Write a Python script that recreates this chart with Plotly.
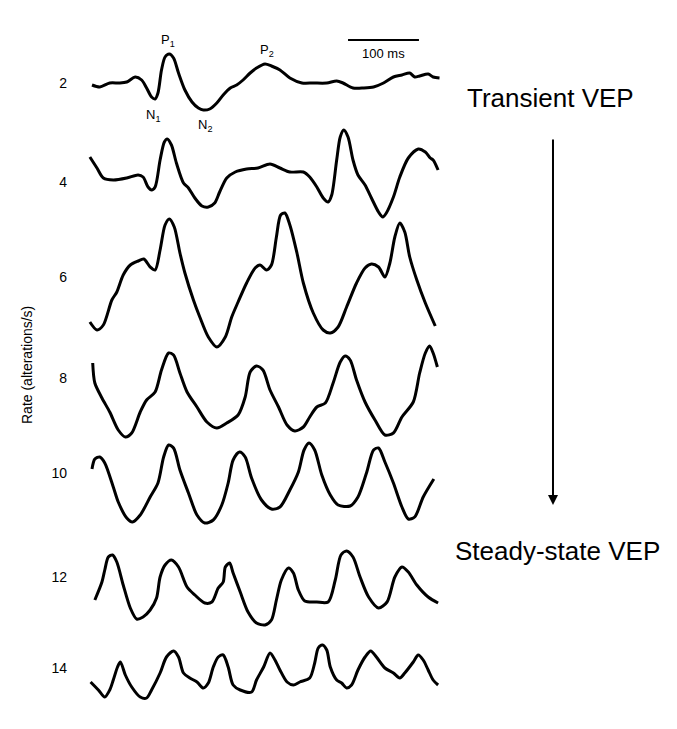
import plotly.graph_objects as go

# ---------------- data ----------------
# stimulation rates (alterations/s)
rates = [2, 4, 6, 8, 10, 12, 14]

# time (ms) and amplitude (a.u.) for each rate
t_2 = [0, 11, 25, 39, 49, 61, 70, 77, 84, 89, 93, 98, 103, 109, 115, 122, 131, 141, 150, 157, 166, 176, 185, 195, 204, 213, 223, 232, 244, 253, 265, 279, 296, 312, 331, 345, 354, 368, 383, 397, 411, 425, 437, 448, 455, 462, 474, 481, 490]
a_2 = [-2, -4, 0, 0, 1, 6, 3, -5, -14, -16, -10, 13, 26, 29, 25, 10, -7, -19, -25, -27, -26, -20, -12, -5, -2, 3, 10, 15, 19, 17, 13, 5, 0, 0, 0, 2, 0, -5, -5, -4, 0, 6, 8, 10, 6, 7, 9, 6, 5]

t_4 = [-3, 7, 16, 30, 49, 65, 72, 79, 84, 89, 96, 102, 106, 112, 119, 129, 136, 145, 155, 164, 173, 180, 190, 202, 218, 234, 251, 265, 279, 298, 307, 317, 326, 333, 338, 345, 350, 355, 361, 368, 375, 385, 394, 404, 410, 415, 425, 434, 446, 460, 470, 477, 481, 488]
a_4 = [25, 14, 4, 2, 4, 7, 5, -5, -8, -5, 22, 40, 43, 37, 19, -1, -6, -16, -24, -25, -21, -10, 4, 10, 13, 14, 18, 14, 10, 10, 5, -5, -16, -20, -13, 22, 45, 52, 45, 22, 7, -3, -16, -30, -35, -31, -15, 5, 24, 33, 30, 24, 22, 12]

t_6 = [-3, 7, 16, 28, 35, 44, 54, 65, 73, 82, 89, 96, 103, 109, 116, 124, 131, 143, 152, 164, 176, 188, 197, 206, 218, 230, 237, 246, 253, 260, 266, 272, 279, 289, 298, 312, 326, 336, 347, 359, 373, 385, 394, 404, 413, 420, 427, 434, 441, 448, 458, 470, 484]
a_6 = [-45, -53, -48, -23, -15, 2, 12, 16, 18, 10, 7, 27, 52, 58, 50, 24, 4, -23, -40, -60, -70, -60, -40, -25, -6, 9, 12, 7, 12, 40, 62, 64, 52, 24, -6, -36, -53, -56, -50, -30, -6, 9, 13, 10, 0, 14, 40, 54, 45, 20, -3, -26, -49]

t_8 = [1, 4, 14, 25, 37, 47, 56, 68, 77, 89, 98, 108, 115, 124, 134, 148, 162, 176, 190, 206, 216, 223, 232, 241, 251, 263, 275, 286, 298, 307, 317, 329, 340, 350, 357, 364, 373, 385, 399, 413, 425, 437, 453, 462, 470, 476, 481, 487]
a_8 = [15, -5, -20, -34, -52, -59, -55, -34, -22, -14, 8, 25, 23, 5, -14, -29, -44, -50, -45, -37, -19, 6, 12, 8, -12, -29, -47, -53, -49, -39, -29, -25, -5, 16, 22, 18, -2, -24, -42, -57, -55, -39, -24, 5, 25, 32, 25, 11]

t_10 = [0, 4, 11, 18, 30, 37, 49, 57, 68, 82, 93, 101, 108, 115, 124, 136, 148, 159, 171, 183, 192, 199, 208, 216, 225, 239, 253, 265, 279, 291, 299, 306, 314, 324, 336, 347, 364, 375, 387, 397, 404, 413, 425, 437, 446, 455, 467, 482]
a_10 = [4, 14, 16, 10, -14, -29, -45, -49, -42, -24, -10, 16, 28, 25, 3, -20, -42, -50, -47, -32, -10, 13, 21, 16, -5, -27, -36, -34, -17, 1, 23, 30, 23, -2, -22, -32, -33, -24, 0, 23, 25, 11, -10, -34, -46, -44, -24, -6]

t_12 = [4, 14, 18, 23, 29, 35, 44, 54, 63, 72, 82, 91, 96, 103, 112, 122, 134, 145, 159, 169, 178, 185, 188, 194, 199, 209, 220, 232, 244, 253, 260, 267, 277, 284, 291, 300, 317, 333, 343, 351, 359, 368, 378, 390, 404, 416, 427, 437, 446, 458, 474, 488]
a_12 = [-23, -5, 7, 20, 22, 15, -8, -31, -42, -40, -33, -21, 0, 12, 17, 10, -10, -18, -26, -25, -11, -5, 10, 14, 4, -15, -35, -46, -48, -43, -23, -3, 9, 4, -13, -24, -25, -25, -3, 22, 26, 20, 0, -20, -31, -25, 0, 10, 5, -8, -20, -26]

t_14 = [-2, 9, 18, 25, 30, 36, 40, 47, 56, 68, 77, 84, 96, 105, 115, 122, 129, 138, 148, 157, 164, 171, 178, 185, 192, 199, 209, 225, 232, 242, 251, 258, 265, 275, 284, 293, 307, 314, 319, 325, 331, 336, 345, 352, 359, 366, 375, 385, 393, 401, 413, 425, 434, 441, 453, 460, 467, 474, 481, 488]
a_14 = [-14, -22, -29, -22, -12, 1, 6, -7, -19, -29, -30, -22, -5, 11, 17, 11, -5, -10, -14, -20, -15, 1, 11, 13, 1, -17, -22, -24, -12, 1, 15, 8, -2, -14, -17, -14, -10, 5, 20, 23, 18, 1, -12, -15, -20, -17, -2, 11, 17, 11, 0, -5, -10, -5, 6, 13, 8, -2, -12, -17]

times = [t_2, t_4, t_6, t_8, t_10, t_12, t_14]
amps = [a_2, a_4, a_6, a_8, a_10, a_12, a_14]

scale_bar_ms = 100
component_labels = ["P<sub>1</sub>", "N<sub>1</sub>", "N<sub>2</sub>", "P<sub>2</sub>"]
component_times = [107, 86, 159, 247]

# ---------------- layout constants ----------------
ROW_POS = [83, 182, 277, 378, 473, 577, 668]      # vertical stacking offset for each row
COMP_Y = [40, 115, 125, 50]
FONT = "Arial, Liberation Sans, sans-serif"

fig = go.Figure()
for r, t, a, off in zip(rates, times, amps, ROW_POS):
    fig.add_trace(go.Scatter(
        x=t, y=[v - off for v in a], mode="lines",
        line=dict(color="black", width=3, shape="spline", smoothing=0.8),
        name=f"{r}/s", hoverinfo="skip", showlegend=False))

# scale bar
sb_start = 361
fig.add_trace(go.Scatter(x=[sb_start, sb_start + scale_bar_ms], y=[-40, -40], mode="lines",
                         line=dict(color="black", width=2), showlegend=False, hoverinfo="skip"))
fig.add_annotation(x=sb_start + scale_bar_ms / 2, y=-53, text="100 ms", showarrow=False,
                   font=dict(family=FONT, size=13, color="black"))

for lbl, tt, yy in zip(component_labels, component_times, COMP_Y):
    fig.add_annotation(x=tt, y=-yy, text=lbl, showarrow=False,
                       font=dict(family=FONT, size=13, color="black"))

fig.add_annotation(x=646, y=-98, text="Transient VEP", showarrow=False,
                   font=dict(family=FONT, size=26, color="black"))
fig.add_annotation(x=656, y=-551, text="Steady-state VEP", showarrow=False,
                   font=dict(family=FONT, size=26, color="black"))
fig.add_annotation(x=650, y=-505, ax=650, ay=-138, axref="x", ayref="y",
                   showarrow=True, arrowhead=2, arrowsize=1, arrowwidth=2, arrowcolor="black", text="")

fig.add_annotation(xref="paper", yref="y", x=-0.0673, y=-365, xanchor="center", yanchor="middle",
                   text="Rate (alterations/s)", textangle=-90, showarrow=False,
                   font=dict(family=FONT, size=14, color="black"))

# the page body adds an 8px offset; the figure is sized/positioned to compensate
fig.update_layout(
    width=669, height=721,
    margin=dict(l=60, r=0, t=0, b=0),
    paper_bgcolor="white", plot_bgcolor="white",
    xaxis=dict(range=[-33.84, 824.85], visible=False, fixedrange=True),
    yaxis=dict(range=[-729, -8], showgrid=False, zeroline=False, showline=False, ticks="",
               tickvals=[-p for p in ROW_POS], ticktext=[str(r) for r in rates],
               tickfont=dict(family=FONT, size=14, color="black"), fixedrange=True),
)

fig.write_html("out.html")
